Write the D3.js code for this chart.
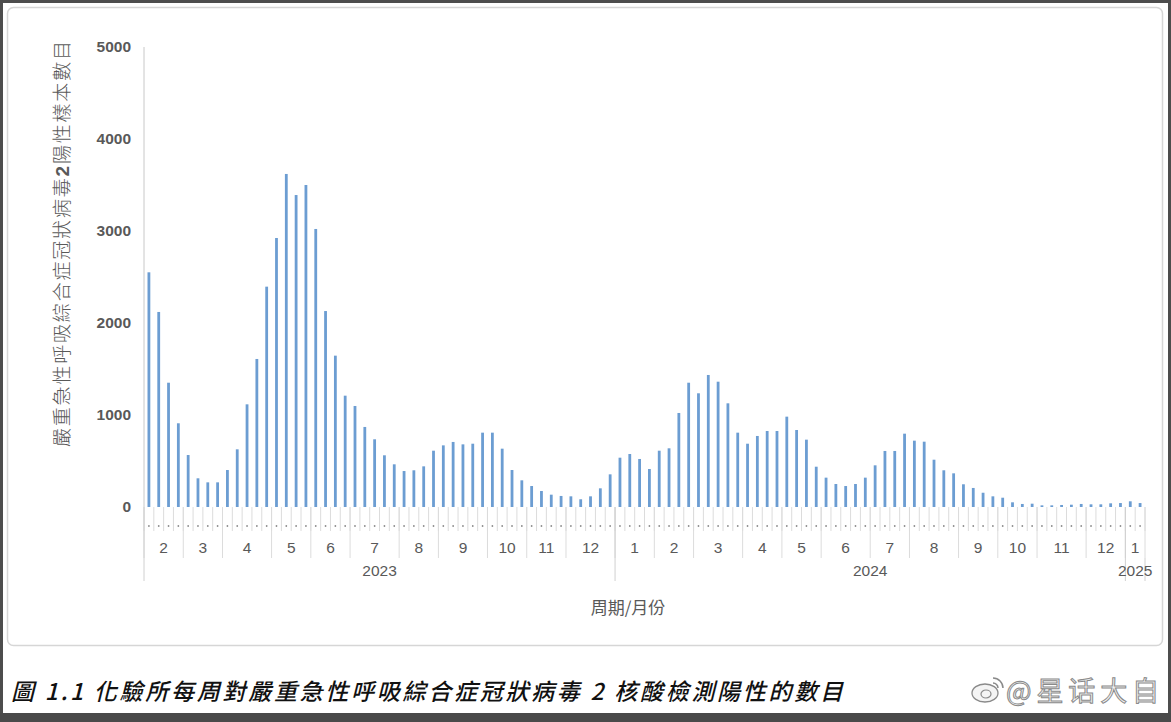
<!DOCTYPE html>
<html>
<head>
<meta charset="utf-8">
<script src="https://cdn.jsdelivr.net/npm/d3@7"></script>
<style>
  html, body { margin: 0; padding: 0; background: #ffffff; }
  svg { display: block; }
</style>
</head>
<body>
<svg id="chart" width="1171" height="722"></svg>
<script>
// ---------------- data ----------------
const values = [
  2551, 2120, 1351, 910,            // 2023-2
  565, 312, 268, 268,               // 3
  402, 627, 1116, 1609, 2395,       // 4
  2924, 3620, 3391, 3500,           // 5
  3022, 2130, 1645, 1210,           // 6
  1098, 870, 736, 562, 464,         // 7
  391, 399, 442, 612,               // 8
  670, 707, 681, 688, 808,          // 9
  808, 634, 402, 290,               // 10
  228, 174, 134, 120,               // 11
  116, 84, 116, 203, 355,           // 12
  536, 576, 522, 413,               // 2024-1
  612, 638, 1022, 1351,             // 2
  1236, 1435, 1362, 1127, 808,      // 3
  688, 772, 826, 826,               // 4
  982, 837, 732, 438,               // 5
  319, 250, 228, 250, 319,          // 6
  453, 609, 609, 797,               // 7
  721, 710, 514, 399, 366,          // 8
  247, 207, 155, 116,               // 9
  101, 51, 33, 36,                  // 10
  18, 18, 22, 25, 33,               // 11
  29, 29, 40, 43,                   // 12
  62, 43                            // 2025-1
];
const monthLabels = ["2","3","4","5","6","7","8","9","10","11","12",
                     "1","2","3","4","5","6","7","8","9","10","11","12",
                     "1"];
const weeksPerMonth = [4,4,5,4,4,5,4,5,4,4,5,
                       4,4,5,4,4,5,4,5,4,4,5,4,
                       2];
const yearLabels = ["2023","2024","2025"];
const monthsPerYear = [11,12,1];
const yTicks = [0,1000,2000,3000,4000,5000];
const yTitleMain = "嚴重急性呼吸綜合症冠狀病毒";
const yTitleNum = "2";
const yTitleTail = "陽性樣本數目";
const xTitle = "周期/月份";
const caption = "圖 1.1 化驗所每周對嚴重急性呼吸綜合症冠狀病毒 2 核酸檢測陽性的數目";
const watermark = "@星话大自";

// ---------------- build categories ----------------
const weeks = values.map((v, i) => ({ id: i, value: v }));
const monthSpans = [];
let wk = 0;
weeksPerMonth.forEach((n, i) => { monthSpans.push({ label: monthLabels[i], start: wk, end: wk + n }); wk += n; });
const yearSpans = [];
let mo = 0;
monthsPerYear.forEach((n, i) => {
  yearSpans.push({ label: yearLabels[i], start: monthSpans[mo].start, end: monthSpans[mo + n - 1].end });
  mo += n;
});

// ---------------- layout ----------------
const svg = d3.select("#chart");
const W = 1171, H = 722;
const x0 = 144, x1 = 1145;
const yTop = 47, yBase = 507;

// frames
svg.append("rect").attr("x", 0).attr("y", 0).attr("width", W).attr("height", H).attr("fill", "#fff");
svg.append("rect").attr("x", 7.5).attr("y", 7.5).attr("width", 1155).attr("height", 638)
  .attr("rx", 6).attr("fill", "none").attr("stroke", "#d6d6d6").attr("stroke-width", 1.5);
svg.append("rect").attr("x", 1.5).attr("y", 1.5).attr("width", W - 3).attr("height", H - 3)
  .attr("fill", "none").attr("stroke", "#4d4d4d").attr("stroke-width", 3);
svg.append("rect").attr("x", 0).attr("y", 713).attr("width", W).attr("height", 9).attr("fill", "#4a4a4a");

const x = d3.scaleBand().domain(weeks.map(d => d.id)).range([x0, x1]).paddingInner(0).paddingOuter(0);
const y = d3.scaleLinear().domain([0, 5000]).range([yBase, yTop]);
const step = x.step();
const bx = i => x0 + i * step;

// y axis line
svg.append("line").attr("x1", x0).attr("x2", x0).attr("y1", yTop).attr("y2", yBase)
  .attr("stroke", "#c8c8c8").attr("stroke-width", 1);

// y tick labels
const yAxis = d3.axisLeft(y).tickValues(yTicks).tickSize(0).tickPadding(0).tickFormat(d3.format("d"));
const gy = svg.append("g").attr("transform", "translate(131,0)").call(yAxis);
gy.select(".domain").remove();
gy.selectAll("text").attr("font-family", "'Liberation Sans', Arial, sans-serif")
  .attr("font-size", 15.5).attr("font-weight", "bold").attr("fill", "#595959");

// bars
const barW = 2.8;
svg.append("g").selectAll("rect").data(weeks).join("rect")
  .attr("x", d => x(d.id) + step / 2 - barW / 2)
  .attr("y", d => y(d.value))
  .attr("width", barW)
  .attr("height", d => yBase - y(d.value))
  .attr("fill", "#6c9dd2");

// multi-level category axis
const gx = svg.append("g");
d3.range(0, weeks.length + 1).forEach(i => {
  gx.append("line").attr("x1", bx(i)).attr("x2", bx(i)).attr("y1", yBase).attr("y2", 531)
    .attr("stroke", "#dcdcdc").attr("stroke-width", 1);
});
gx.selectAll("circle.wk").data(weeks).join("circle").attr("class", "wk")
  .attr("cx", d => x(d.id) + step / 2).attr("cy", 526).attr("r", 0.9).attr("fill", "#8c8c8c");
monthSpans.forEach(m => {
  gx.append("line").attr("x1", bx(m.start)).attr("x2", bx(m.start)).attr("y1", yBase).attr("y2", 558)
    .attr("stroke", "#dcdcdc").attr("stroke-width", 1);
});
gx.append("line").attr("x1", bx(weeks.length)).attr("x2", bx(weeks.length)).attr("y1", yBase).attr("y2", 558)
  .attr("stroke", "#dcdcdc");
gx.selectAll("text.mo").data(monthSpans).join("text").attr("class", "mo")
  .attr("x", d => (bx(d.start) + bx(d.end)) / 2).attr("y", 553)
  .attr("text-anchor", "middle").attr("font-family", "'Liberation Sans', Arial, sans-serif")
  .attr("font-size", 15.5).attr("fill", "#595959").text(d => d.label);
yearSpans.forEach(s => {
  gx.append("line").attr("x1", bx(s.start)).attr("x2", bx(s.start)).attr("y1", yBase).attr("y2", 581)
    .attr("stroke", "#d0d0d0").attr("stroke-width", 1);
});
gx.append("line").attr("x1", bx(weeks.length)).attr("x2", bx(weeks.length)).attr("y1", 558).attr("y2", 581)
  .attr("stroke", "#d0d0d0");
gx.selectAll("text.yr").data(yearSpans).join("text").attr("class", "yr")
  .attr("x", d => (bx(d.start) + bx(d.end)) / 2).attr("y", 576)
  .attr("text-anchor", "middle").attr("font-family", "'Liberation Sans', Arial, sans-serif")
  .attr("font-size", 15.5).attr("fill", "#595959").text(d => d.label);

// axis titles
svg.append("text").attr("x", 628).attr("y", 614).attr("text-anchor", "middle")
  .attr("font-family", "'Noto Sans CJK TC', sans-serif").attr("font-size", 17)
  .attr("fill", "#595959").text(xTitle);

const yt = svg.append("text").attr("transform", "translate(69,244) rotate(-90)")
  .attr("text-anchor", "middle").attr("font-family", "'Noto Sans CJK TC', sans-serif")
  .attr("font-size", 19).attr("font-weight", 300).attr("fill", "#595959")
  .attr("textLength", 406).attr("lengthAdjust", "spacing");
yt.append("tspan").text(yTitleMain);
yt.append("tspan").attr("font-weight", "bold").attr("font-family", "'Liberation Sans', Arial, sans-serif").text(yTitleNum);
yt.append("tspan").text(yTitleTail);

// caption
svg.append("text").attr("x", 11).attr("y", 700)
  .attr("font-family", "'Noto Sans CJK TC', sans-serif").attr("font-style", "italic")
  .attr("font-size", 23).attr("font-weight", 500).attr("fill", "#111")
  .attr("textLength", 832).attr("lengthAdjust", "spacing")
  .text(caption);

// watermark (weibo-style logo + handle)
const wm = svg.append("g").attr("transform", "translate(985,690)");
wm.append("ellipse").attr("cx", 0).attr("cy", 3).attr("rx", 13).attr("ry", 9)
  .attr("fill", "#f4f4f4").attr("stroke", "#8a8a8a").attr("stroke-width", 1.3);
wm.append("ellipse").attr("cx", 1).attr("cy", 4).attr("rx", 5).attr("ry", 4)
  .attr("fill", "none").attr("stroke", "#8a8a8a").attr("stroke-width", 1.2);
wm.append("path").attr("d", "M8,-12 A10,10 0 0 1 18,-2").attr("fill", "none").attr("stroke", "#8a8a8a").attr("stroke-width", 1.5);
wm.append("path").attr("d", "M8,-7 A5,5 0 0 1 13,-2").attr("fill", "none").attr("stroke", "#8a8a8a").attr("stroke-width", 1.5);
svg.append("text").attr("x", 1006).attr("y", 701)
  .attr("font-family", "'Noto Sans CJK SC', sans-serif").attr("font-size", 27)
  .attr("fill", "#f2f2f2").attr("stroke", "#8a8a8a").attr("stroke-width", 1)
  .attr("textLength", 153).attr("lengthAdjust", "spacing")
  .text(watermark);
</script>
</body>
</html>
